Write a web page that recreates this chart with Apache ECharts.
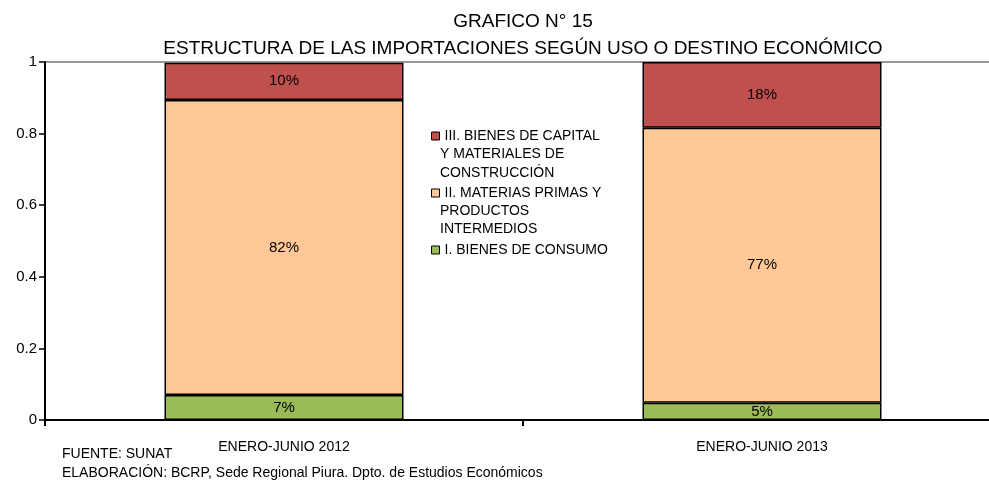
<!DOCTYPE html>
<html><head><meta charset="utf-8">
<script src="https://cdn.jsdelivr.net/npm/echarts@6/dist/echarts.min.js"></script>
<style>html,body{margin:0;padding:0;background:#fff}#c{width:989px;height:484px}</style>
</head><body><div id="c"></div>
<script>
var categories = ['ENERO-JUNIO 2012', 'ENERO-JUNIO 2013'];
var consumo = [0.07, 0.048];
var materias = [0.824, 0.768];
var capital = [0.104, 0.184];
var yTicks = [0, 0.2, 0.4, 0.6, 0.8, 1];
var seriesNames = ['I. BIENES DE CONSUMO', 'II. MATERIAS PRIMAS Y', 'III. BIENES DE CAPITAL'];
var F = 'Liberation Sans, Arial, sans-serif';

var chart = echarts.init(document.getElementById('c'));
function lbl(p){ return Math.round(p.value*100) + '%'; }
function mk(name, data, color){
  return {name:name, type:'bar', stack:'s', data:data, barWidth:'50%',
    itemStyle:{color:color, borderColor:'#000', borderWidth:1.5, borderRadius:0},
    label:{show:true, position:'inside', formatter:lbl, color:'#000', fontFamily:F, fontSize:15},
    emphasis:{disabled:true}};
}
chart.setOption({
  animation:false,
  title:{text:'GRAFICO N° 15\nESTRUCTURA DE LAS IMPORTACIONES SEGÚN USO O DESTINO ECONÓMICO',
    left:518, textAlign:'center', top:3,
    textStyle:{fontFamily:F, fontSize:19, fontWeight:'normal', color:'#000', lineHeight:27}},
  grid:{left:45, top:62, width:956, height:358, outerBoundsMode:'none', containLabel:false},
  legend:{orient:'vertical', left:426, top:124, itemGap:43, itemWidth:8, itemHeight:8, icon:'rect',
    data:[seriesNames[2], seriesNames[1], seriesNames[0]],
    textStyle:{fontFamily:F, fontSize:14, color:'#000'},
    itemStyle:{borderColor:'#000', borderWidth:1}},
  xAxis:{type:'category', data:categories,
    axisLine:{lineStyle:{color:'#000', width:2}},
    axisTick:{show:true, length:6, lineStyle:{color:'#000', width:2}},
    axisLabel:{fontFamily:F, fontSize:14, color:'#000', margin:20}},
  yAxis:{type:'value', min:0, max:1, interval:0.2,
    axisLine:{show:true, lineStyle:{color:'#000', width:2}},
    axisTick:{show:true, length:6, lineStyle:{color:'#000', width:1.5}},
    axisLabel:{fontFamily:F, fontSize:15, color:'#000', margin:8,
      formatter:function(v){ return yTicks.indexOf(Math.round(v*10)/10)>=0 ? String(Math.round(v*10)/10) : ''; }},
    splitLine:{show:true, lineStyle:{color:['rgba(0,0,0,0)','rgba(0,0,0,0)','rgba(0,0,0,0)','rgba(0,0,0,0)','rgba(0,0,0,0)','#999'], width:2}}},
  series:[mk(seriesNames[0], consumo, '#9BBB59'), mk(seriesNames[1], materias, '#FFC896'), mk(seriesNames[2], capital, '#C0504D')],
  graphic:[
    {type:'text', left:440, top:145, style:{text:'Y MATERIALES DE\nCONSTRUCCIÓN', font:'14px '+F, fill:'#000', lineHeight:19}},
    {type:'text', left:440, top:202, style:{text:'PRODUCTOS\nINTERMEDIOS', font:'14px '+F, fill:'#000', lineHeight:18}},
    {type:'text', left:62, top:447, style:{text:'FUENTE: SUNAT', font:'14px '+F, fill:'#000'}},
    {type:'text', left:62, top:466, style:{text:'ELABORACIÓN: BCRP, Sede Regional Piura. Dpto. de Estudios Económicos', font:'14px '+F, fill:'#000'}}
  ]
});
</script></body></html>
